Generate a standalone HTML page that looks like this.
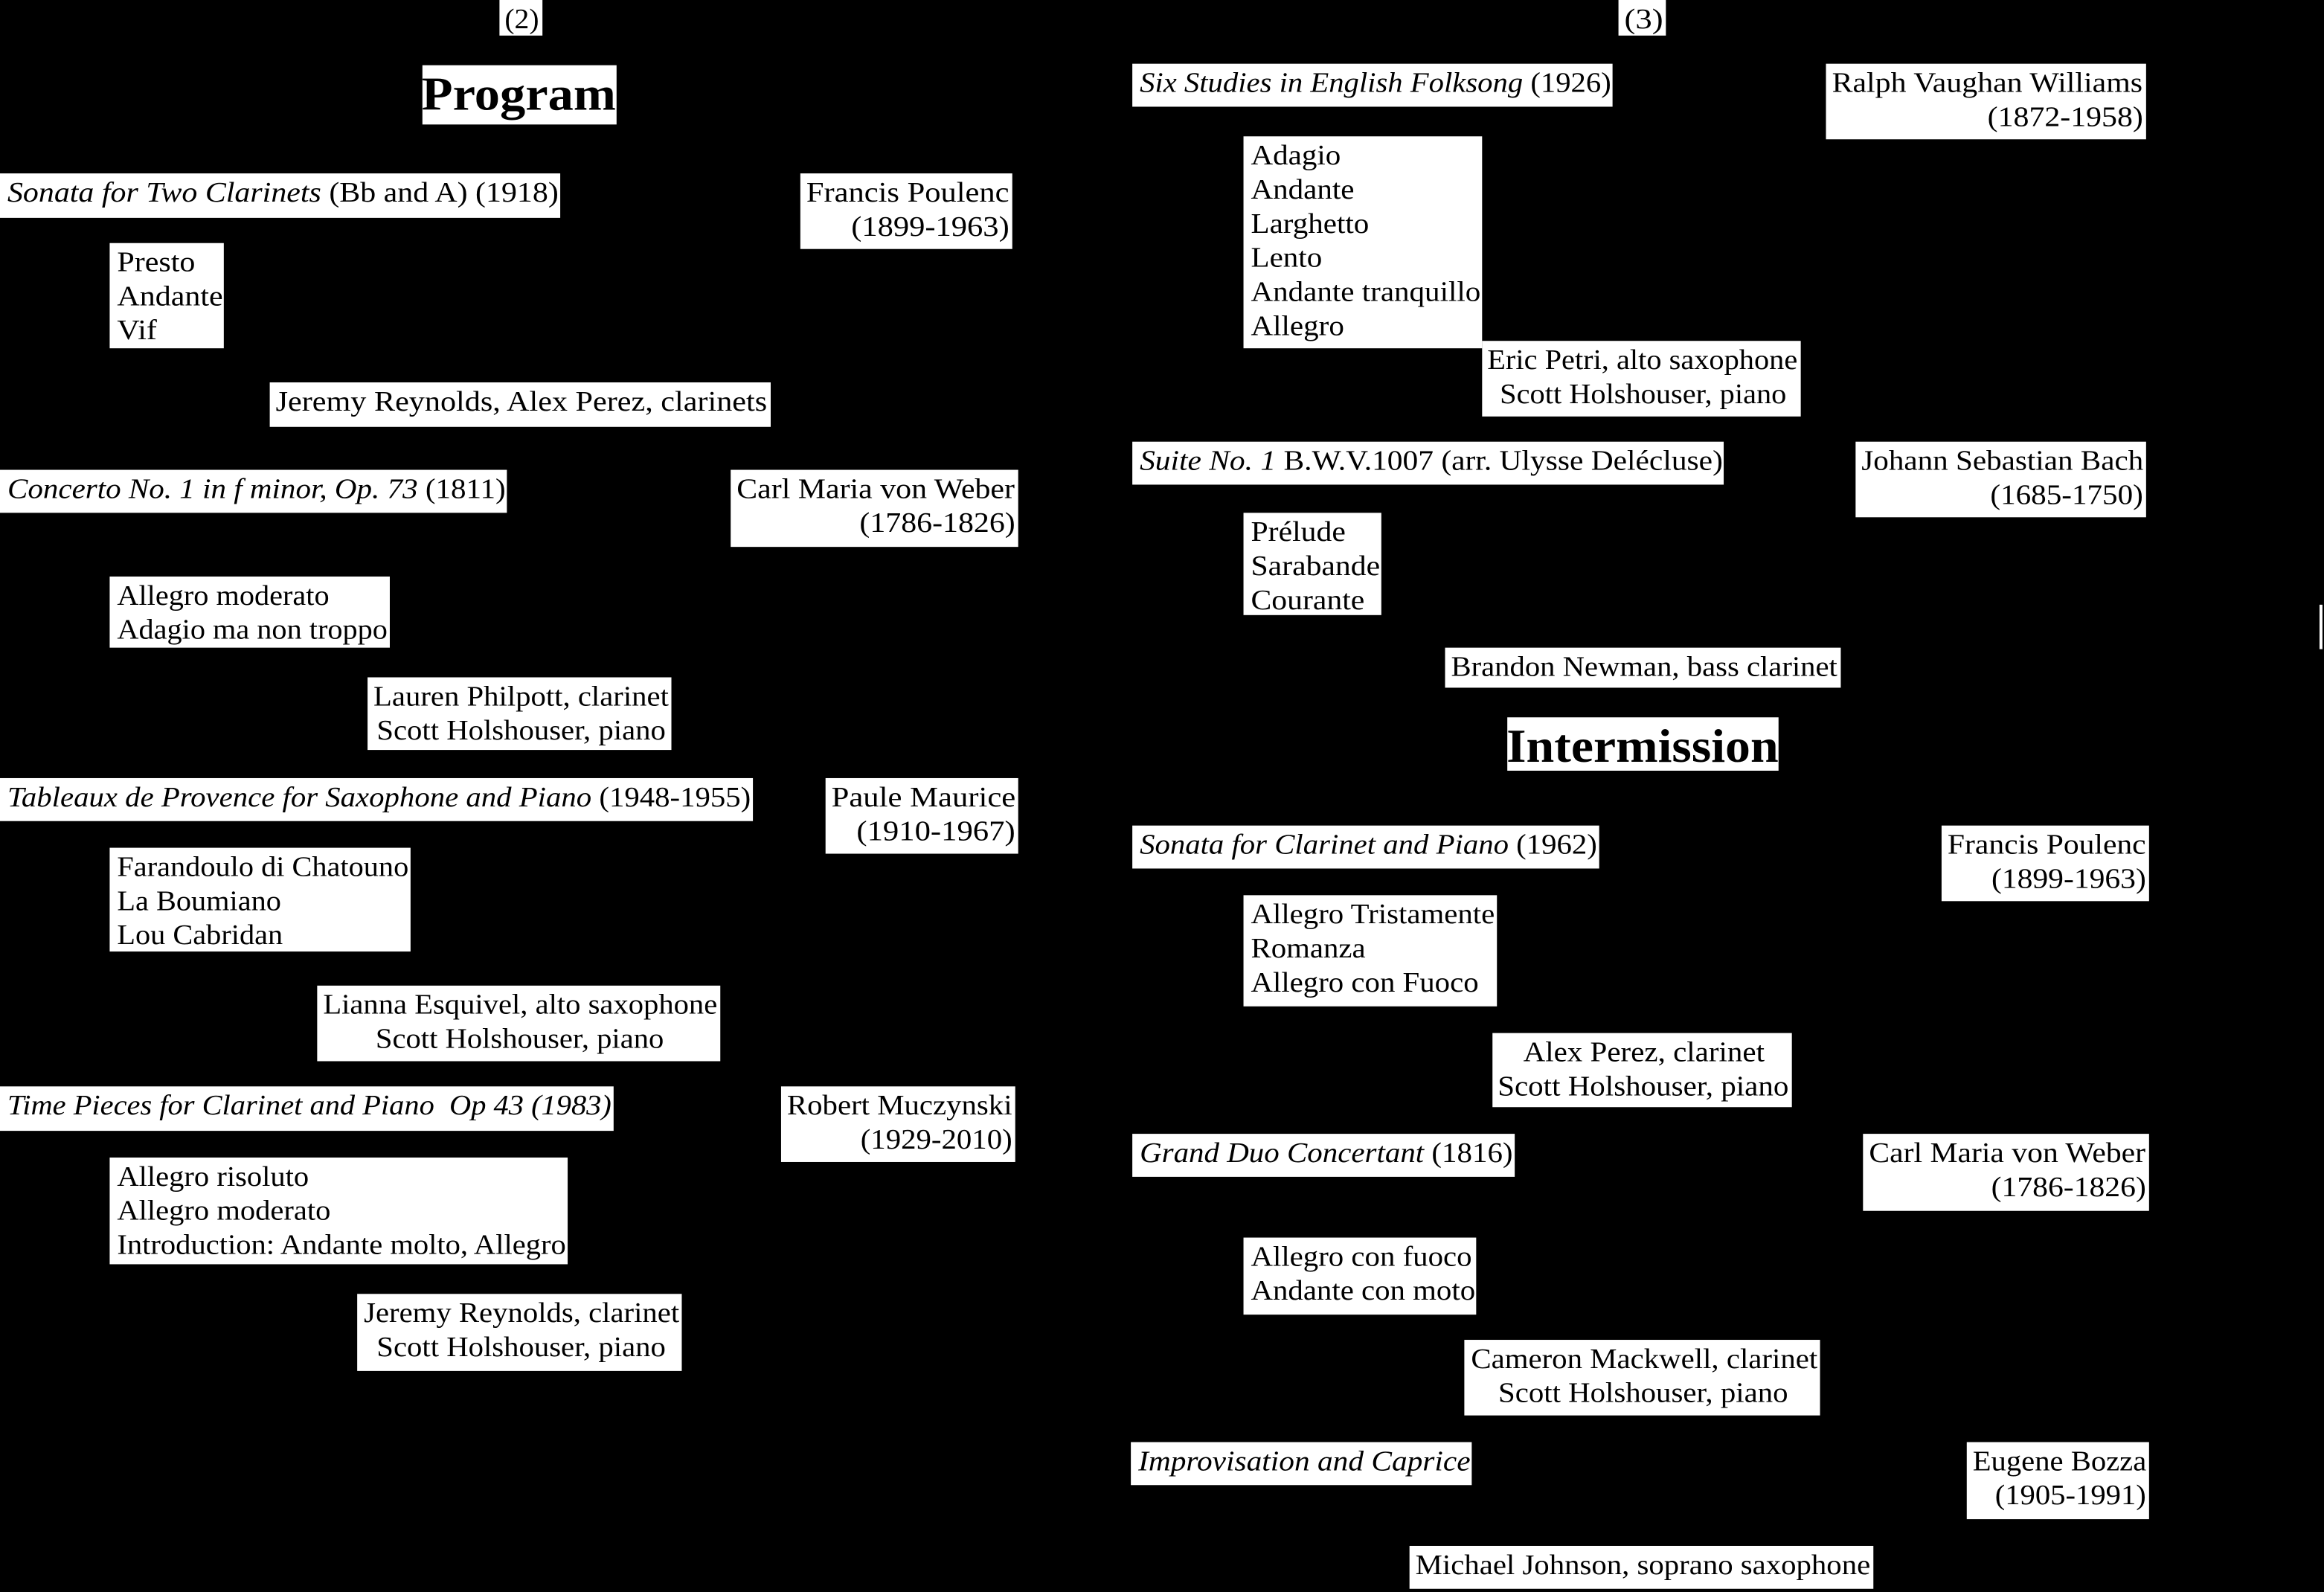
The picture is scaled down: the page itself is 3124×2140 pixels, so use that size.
<!DOCTYPE html>
<html><head><meta charset="utf-8"><style>
html,body{margin:0;padding:0;background:#000;width:3124px;height:2140px;overflow:hidden}
#w{position:absolute;left:0;top:0;width:1568px;height:1074px;transform:scale(1.9923);transform-origin:0 0}
.b{position:absolute;background:#fff;color:#000;font-family:"Liberation Serif",serif;font-size:19px;line-height:23px;padding-top:2px;box-sizing:border-box;overflow:hidden}
.b div{white-space:nowrap}
.b span{display:inline-block;transform-origin:0 50%}
.l{padding-left:5px;padding-right:1px}
.r{text-align:right;padding-right:2px;padding-left:4px}
.r span{transform-origin:100% 50%}
.c{text-align:center;padding-left:4px;padding-right:2px}
.c span{transform-origin:50% 50%}
i{font-style:italic}
.h{font-weight:bold;font-size:32px;line-height:38px;text-align:center;padding-top:0}
.h span{transform-origin:50% 50%}
</style></head><body><div id="w">
<div class="b c" style="left:337px;top:0;width:29px;height:24px"><div><span>(2)</span></div></div>
<div class="b h" style="left:285px;top:44px;width:131px;height:40px"><div><span>Program</span></div></div>
<div class="b l" style="left:0;top:117px;width:378px;height:30px"><div><span><i>Sonata for Two Clarinets</i> (Bb and A) (1918)</span></div></div>
<div class="b r" style="left:540px;top:117px;width:143px;height:51px"><div><span>Francis Poulenc</span></div><div><span>(1899-1963)</span></div></div>
<div class="b l" style="left:74px;top:164px;width:77px;height:71px"><div><span>Presto</span></div><div><span>Andante</span></div><div><span>Vif</span></div></div>
<div class="b c" style="left:182px;top:258px;width:338px;height:30px"><div><span>Jeremy Reynolds, Alex Perez, clarinets</span></div></div>
<div class="b l" style="left:0;top:317px;width:342px;height:29px"><div><span><i>Concerto No. 1 in f minor, Op. 73</i> (1811)</span></div></div>
<div class="b r" style="left:493px;top:317px;width:194px;height:52px"><div><span>Carl Maria von Weber</span></div><div><span>(1786-1826)</span></div></div>
<div class="b l" style="left:74px;top:389px;width:189px;height:48px"><div><span>Allegro moderato</span></div><div><span>Adagio ma non troppo</span></div></div>
<div class="b c" style="left:248px;top:457px;width:205px;height:49px"><div><span>Lauren Philpott, clarinet</span></div><div><span>Scott Holshouser, piano</span></div></div>
<div class="b l" style="left:0;top:525px;width:508px;height:29px"><div><span><i>Tableaux de Provence for Saxophone and Piano</i> (1948-1955)</span></div></div>
<div class="b r" style="left:557px;top:525px;width:130px;height:51px"><div><span>Paule Maurice</span></div><div><span>(1910-1967)</span></div></div>
<div class="b l" style="left:74px;top:572px;width:203px;height:70px"><div><span>Farandoulo di Chatouno</span></div><div><span>La Boumiano</span></div><div><span>Lou Cabridan</span></div></div>
<div class="b c" style="left:214px;top:665px;width:272px;height:51px"><div><span>Lianna Esquivel, alto saxophone</span></div><div><span>Scott Holshouser, piano</span></div></div>
<div class="b l" style="left:0;top:733px;width:414px;height:30px"><div><span><i>Time Pieces for Clarinet and Piano&nbsp; Op 43 (1983)</i></span></div></div>
<div class="b r" style="left:527px;top:733px;width:158px;height:51px"><div><span>Robert Muczynski</span></div><div><span>(1929-2010)</span></div></div>
<div class="b l" style="left:74px;top:781px;width:309px;height:72px"><div><span>Allegro risoluto</span></div><div><span>Allegro moderato</span></div><div><span>Introduction: Andante molto, Allegro</span></div></div>
<div class="b c" style="left:241px;top:873px;width:219px;height:52px"><div><span>Jeremy Reynolds, clarinet</span></div><div><span>Scott Holshouser, piano</span></div></div>

<div class="b c" style="left:1092px;top:0;width:32px;height:24px"><div><span>(3)</span></div></div>
<div class="b l" style="left:764px;top:43px;width:324px;height:29px"><div><span><i>Six Studies in English Folksong</i> (1926)</span></div></div>
<div class="b r" style="left:1232px;top:43px;width:216px;height:51px"><div><span>Ralph Vaughan Williams</span></div><div><span>(1872-1958)</span></div></div>
<div class="b l" style="left:839px;top:92px;width:161px;height:143px"><div><span>Adagio</span></div><div><span>Andante</span></div><div><span>Larghetto</span></div><div><span>Lento</span></div><div><span>Andante tranquillo</span></div><div><span>Allegro</span></div></div>
<div class="b c" style="left:1000px;top:230px;width:215px;height:51px"><div><span>Eric Petri, alto saxophone</span></div><div><span>Scott Holshouser, piano</span></div></div>
<div class="b l" style="left:764px;top:298px;width:399px;height:29px"><div><span><i>Suite No. 1</i> B.W.V.1007 (arr. Ulysse Delécluse)</span></div></div>
<div class="b r" style="left:1252px;top:298px;width:196px;height:51px"><div><span>Johann Sebastian Bach</span></div><div><span>(1685-1750)</span></div></div>
<div class="b l" style="left:839px;top:346px;width:93px;height:69px"><div><span>Prélude</span></div><div><span>Sarabande</span></div><div><span>Courante</span></div></div>
<div class="b c" style="left:975px;top:437px;width:267px;height:27px"><div><span>Brandon Newman, bass clarinet</span></div></div>
<div class="b h" style="left:1017px;top:484px;width:183px;height:36px"><div><span>Intermission</span></div></div>
<div class="b l" style="left:764px;top:557px;width:315px;height:29px"><div><span><i>Sonata for Clarinet and Piano</i> (1962)</span></div></div>
<div class="b r" style="left:1310px;top:557px;width:140px;height:51px"><div><span>Francis Poulenc</span></div><div><span>(1899-1963)</span></div></div>
<div class="b l" style="left:839px;top:604px;width:171px;height:75px"><div><span>Allegro Tristamente</span></div><div><span>Romanza</span></div><div><span>Allegro con Fuoco</span></div></div>
<div class="b c" style="left:1007px;top:697px;width:202px;height:50px"><div><span>Alex Perez, clarinet</span></div><div><span>Scott Holshouser, piano</span></div></div>
<div class="b l" style="left:764px;top:765px;width:258px;height:29px"><div><span><i>Grand Duo Concertant</i> (1816)</span></div></div>
<div class="b r" style="left:1257px;top:765px;width:193px;height:52px"><div><span>Carl Maria von Weber</span></div><div><span>(1786-1826)</span></div></div>
<div class="b l" style="left:839px;top:835px;width:157px;height:52px"><div><span>Allegro con fuoco</span></div><div><span>Andante con moto</span></div></div>
<div class="b c" style="left:988px;top:904px;width:240px;height:51px"><div><span>Cameron Mackwell, clarinet</span></div><div><span>Scott Holshouser, piano</span></div></div>
<div class="b l" style="left:763px;top:973px;width:230px;height:29px"><div><span><i>Improvisation and Caprice</i></span></div></div>
<div class="b r" style="left:1327px;top:973px;width:123px;height:52px"><div><span>Eugene Bozza</span></div><div><span>(1905-1991)</span></div></div>
<div class="b c" style="left:951px;top:1043px;width:313px;height:29px"><div><span>Michael Johnson, soprano saxophone</span></div></div>
<div style="position:absolute;left:1565px;top:408px;width:2px;height:30px;background:#fff"></div>
</div>
<script>
document.querySelectorAll('.b').forEach(function(b){
  var cs=getComputedStyle(b);
  var avail=b.clientWidth-parseFloat(cs.paddingLeft)-parseFloat(cs.paddingRight);
  var sp=b.querySelectorAll('span'),mx=0;
  sp.forEach(function(s){mx=Math.max(mx,s.offsetWidth);});
  if(mx>0){var f=avail/mx;sp.forEach(function(s){s.style.transform='scaleX('+f+')';});}
});
</script>
</body></html>
